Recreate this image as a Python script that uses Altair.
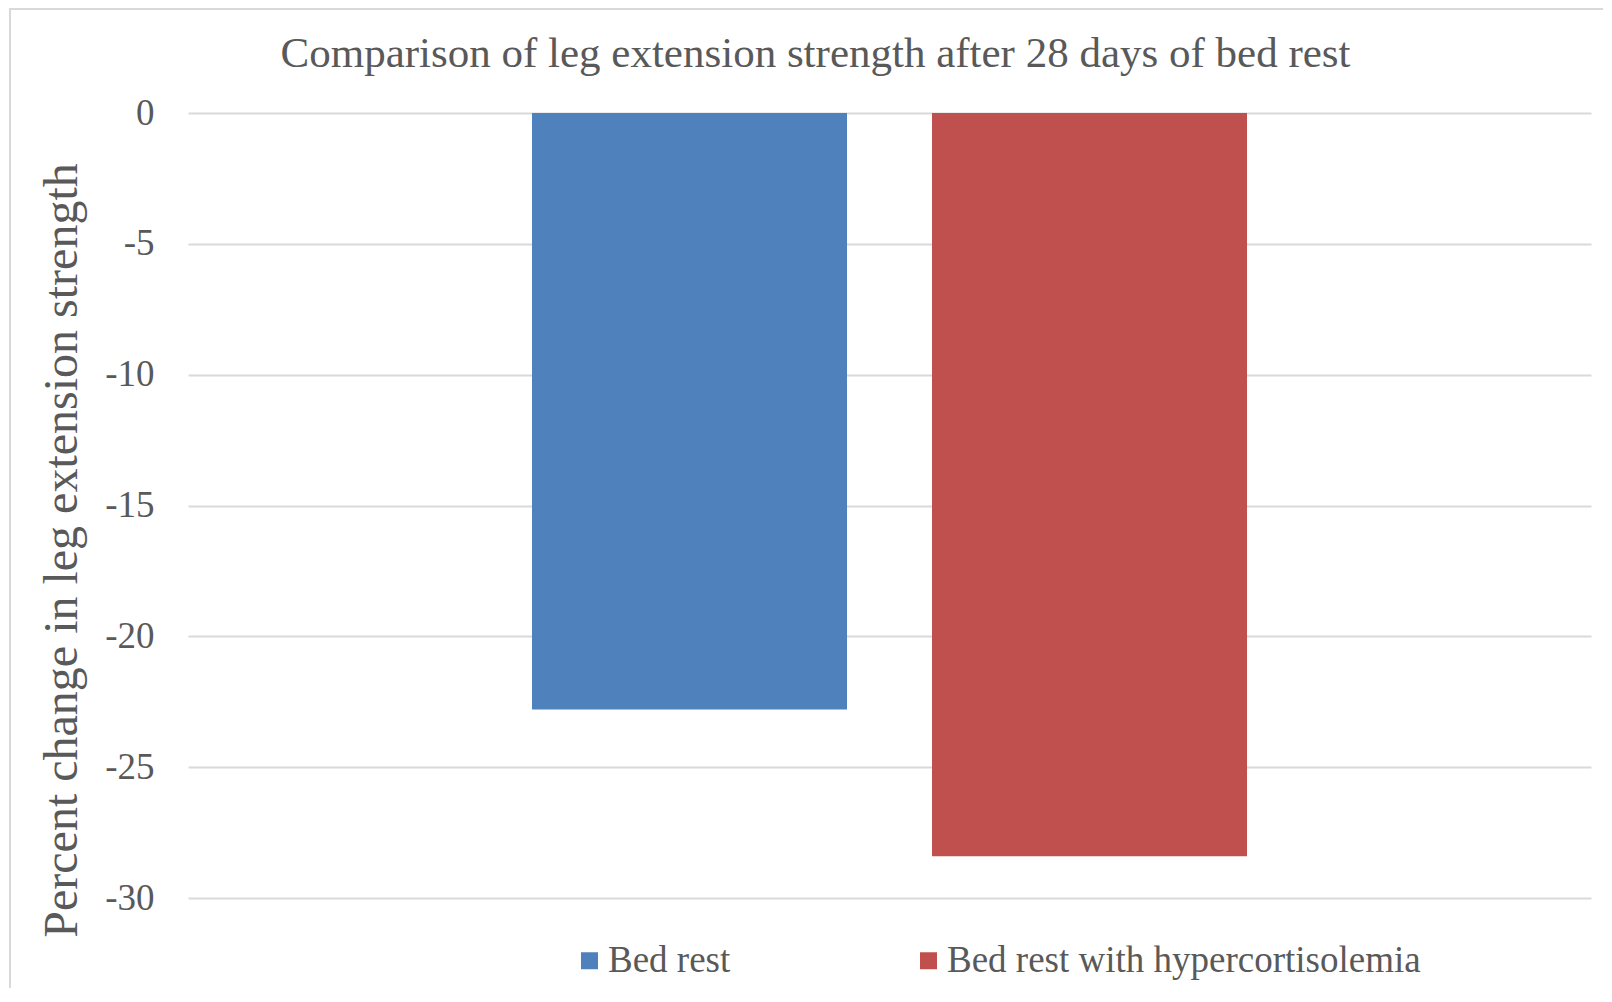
import altair as alt
import pandas as pd

categories = ["Bed rest", "Bed rest with hypercortisolemia"]
values = [-22.8, -28.4]
colors = ["#4F81BD", "#C0504D"]
y_ticks = [0, -5, -10, -15, -20, -25, -30]

title_text = "Comparison of leg extension strength after 28 days of bed rest"
y_title = "Percent change in leg extension strength"

FONT = "Liberation Serif"
GREY = "#595959"

df = pd.DataFrame({"group": categories, "value": values})

bars = alt.Chart(df).mark_bar().encode(
    x=alt.X(
        "group:N",
        sort=categories,
        scale=alt.Scale(paddingInner=0.2125, paddingOuter=0.86),
        axis=None,
    ),
    y=alt.Y(
        "value:Q",
        scale=alt.Scale(domain=[-30, 0], nice=False, zero=True),
        axis=alt.Axis(
            values=y_ticks,
            labelExpr="'' + datum.value",
            title=y_title,
            titleFont=FONT,
            titleFontSize=48,
            titleFontWeight="normal",
            titleColor=GREY,
            titleAngle=270,
            titleAlign="center",
            titleBaseline="middle",
            titleX=-126,
            titleY=437,
            labelFont=FONT,
            labelFontSize=37,
            labelColor=GREY,
            labelPadding=34,
            ticks=False,
            domain=False,
            grid=True,
            gridColor="#d9d9d9",
            gridWidth=2,
        ),
    ),
    color=alt.Color(
        "group:N",
        sort=categories,
        scale=alt.Scale(domain=categories, range=colors),
        legend=alt.Legend(
            title=None,
            orient="none",
            legendX=383,
            legendY=829,
            direction="horizontal",
            symbolType="square",
            symbolSize=289,
            symbolStrokeWidth=0,
            symbolOpacity=1,
            labelFont=FONT,
            labelFontSize=37,
            labelColor=GREY,
            labelOffset=0,
            columnPadding=179,
            labelLimit=1000,
        ),
    ),
)

border_df = pd.DataFrame({"k": [0]})
left_border = alt.Chart(border_df).mark_rule(color="#d9d9d9", strokeWidth=2).encode(
    x=alt.value(-178), y=alt.value(-105), y2=alt.value(875)
)
top_border = alt.Chart(border_df).mark_rule(color="#d9d9d9", strokeWidth=2).encode(
    x=alt.value(-178), x2=alt.value(1420), y=alt.value(-104)
)

chart = (
    alt.layer(bars, left_border, top_border)
    .properties(
        width=1403,
        height=785,
        padding={"left": 180, "top": 105, "right": 12, "bottom": 90},
        autosize=alt.AutoSizeParams(type="none"),
        background="white",
        title=alt.TitleParams(
            text=title_text,
            font=FONT,
            fontSize=43,
            fontWeight="normal",
            color=GREY,
            anchor="middle",
            frame="group",
            dx=-74,
            baseline="alphabetic",
            offset=-103,
        ),
    )
    .configure_view(stroke=None)
)

chart.save("out.html", embed_options={"renderer": "svg", "actions": False})
